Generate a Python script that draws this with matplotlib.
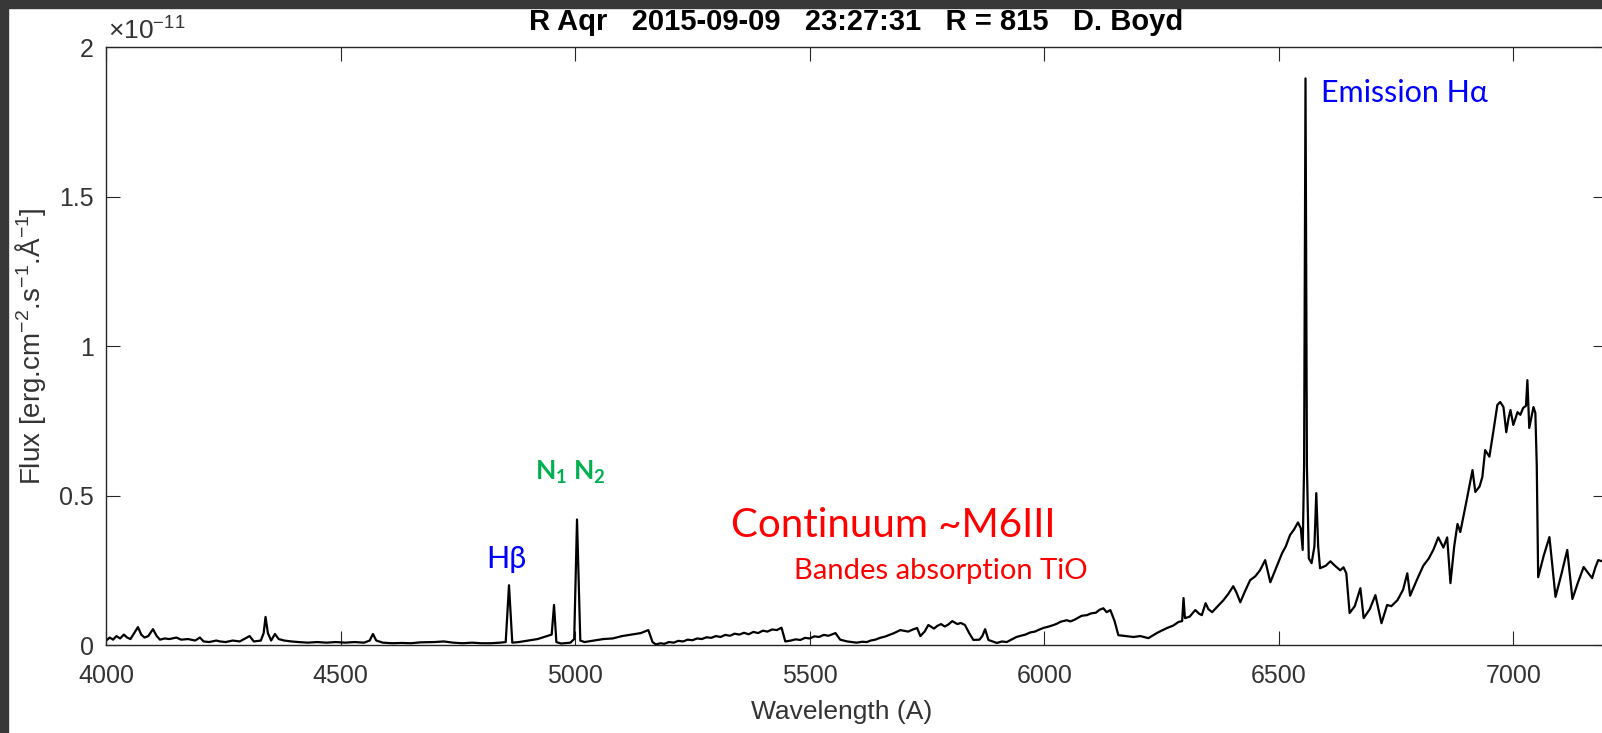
import matplotlib
matplotlib.use("Agg")
import matplotlib.pyplot as plt
from matplotlib.patches import Rectangle

plt.rcParams['font.family'] = ['Liberation Sans', 'DejaVu Sans']
plt.rcParams['mathtext.fontset'] = 'custom'
plt.rcParams['mathtext.rm'] = 'Liberation Sans'
plt.rcParams['mathtext.it'] = 'Liberation Sans:italic'
plt.rcParams['mathtext.bf'] = 'Lato:bold'

# Spectre (flux en unites de 1e-11 erg/cm2/s/A)
wavelength = [
    4000, 4008, 4015, 4022, 4030, 4038, 4045, 4052, 4060, 4068, 4075, 4082, 4090, 4100,
    4108, 4115, 4125, 4135, 4150, 4160, 4175, 4190, 4200, 4208, 4220, 4235, 4243, 4255,
    4270, 4285, 4300, 4306, 4315, 4330, 4336, 4340, 4345, 4352, 4360, 4368, 4380, 4395,
    4410, 4430, 4450, 4470, 4490, 4510, 4530, 4550, 4562, 4569, 4576, 4590, 4610, 4630,
    4650, 4670, 4700, 4720, 4740, 4760, 4780, 4800, 4820, 4840, 4852, 4859, 4866, 4880,
    4900, 4920, 4940, 4950, 4955, 4960, 4970, 4990, 4998, 5004, 5011, 5020, 5040, 5060,
    5080, 5100, 5120, 5140, 5156, 5165, 5172, 5182, 5190, 5200, 5210, 5220, 5230, 5240,
    5250, 5260, 5270, 5280, 5290, 5300, 5310, 5320, 5330, 5340, 5350, 5360, 5370, 5380,
    5390, 5400, 5410, 5420, 5430, 5440, 5448, 5460, 5470, 5480, 5490, 5500, 5510, 5520,
    5530, 5540, 5555, 5565, 5580, 5590, 5600, 5612, 5622, 5630, 5640, 5650, 5660, 5670,
    5680, 5693, 5710, 5720, 5729, 5736, 5745, 5753, 5765, 5772, 5780, 5788, 5795, 5804,
    5815, 5822, 5831, 5840, 5849, 5862, 5868, 5874, 5881, 5899, 5910, 5920, 5930, 5941,
    5950, 5960, 5970, 5980, 5990, 5998, 6010, 6020, 6028, 6035, 6048, 6056, 6065, 6073,
    6080, 6091, 6100, 6110, 6118, 6126, 6133, 6141, 6150, 6158, 6175, 6190, 6205, 6222,
    6240, 6250, 6262, 6275, 6286, 6294, 6297, 6300, 6310, 6322, 6330, 6336, 6344, 6350,
    6358, 6370, 6382, 6392, 6403, 6410, 6418, 6428, 6439, 6450, 6460, 6471, 6476, 6482,
    6495, 6507, 6515, 6524, 6532, 6541, 6547, 6551, 6554, 6557, 6560, 6564, 6570, 6576,
    6580, 6584, 6588, 6600, 6610, 6620, 6631, 6638, 6644, 6651, 6662, 6674, 6681, 6694,
    6706, 6719, 6731, 6740, 6753, 6765, 6774, 6780, 6795, 6808, 6820, 6830, 6840, 6851,
    6859, 6866, 6874, 6881, 6887, 6900, 6913, 6919, 6928, 6934, 6940, 6949, 6958, 6966,
    6972, 6979, 6985, 6990, 6994, 7000, 7009, 7015, 7021, 7027, 7030, 7034, 7043, 7047,
    7050, 7053, 7065, 7077, 7090, 7103, 7115, 7126, 7138, 7150, 7160, 7168, 7175, 7181,
    7190, 7200,
]
flux = [
    0.015, 0.025, 0.018, 0.030, 0.022, 0.035, 0.025, 0.020, 0.040, 0.060, 0.035, 0.025, 0.030, 0.053,
    0.030, 0.018, 0.022, 0.020, 0.025, 0.018, 0.020, 0.015, 0.025, 0.012, 0.010, 0.015, 0.012, 0.010,
    0.015, 0.012, 0.025, 0.030, 0.012, 0.015, 0.040, 0.094, 0.040, 0.015, 0.037, 0.020, 0.015, 0.012,
    0.010, 0.008, 0.010, 0.008, 0.010, 0.008, 0.010, 0.008, 0.015, 0.037, 0.015, 0.008, 0.006, 0.007,
    0.006, 0.009, 0.010, 0.012, 0.008, 0.006, 0.008, 0.006, 0.006, 0.008, 0.010, 0.200, 0.008, 0.010,
    0.015, 0.020, 0.030, 0.035, 0.134, 0.010, 0.005, 0.008, 0.020, 0.420, 0.015, 0.010, 0.015, 0.020,
    0.022, 0.030, 0.035, 0.040, 0.050, 0.010, 0.002, 0.006, 0.004, 0.010, 0.008, 0.014, 0.012, 0.018,
    0.016, 0.022, 0.020, 0.026, 0.024, 0.030, 0.027, 0.034, 0.031, 0.038, 0.035, 0.041, 0.036, 0.044,
    0.040, 0.048, 0.045, 0.052, 0.050, 0.058, 0.012, 0.015, 0.019, 0.017, 0.024, 0.022, 0.029, 0.027,
    0.034, 0.031, 0.040, 0.018, 0.012, 0.010, 0.008, 0.011, 0.010, 0.015, 0.018, 0.024, 0.028, 0.034,
    0.040, 0.050, 0.045, 0.052, 0.057, 0.030, 0.045, 0.067, 0.055, 0.064, 0.070, 0.062, 0.068, 0.080,
    0.070, 0.074, 0.067, 0.040, 0.017, 0.018, 0.030, 0.053, 0.017, 0.007, 0.012, 0.010, 0.018, 0.027,
    0.031, 0.035, 0.042, 0.045, 0.052, 0.057, 0.062, 0.067, 0.072, 0.078, 0.083, 0.079, 0.085, 0.092,
    0.098, 0.100, 0.106, 0.108, 0.118, 0.123, 0.110, 0.117, 0.080, 0.033, 0.030, 0.027, 0.030, 0.023,
    0.040, 0.048, 0.057, 0.065, 0.077, 0.080, 0.157, 0.090, 0.095, 0.117, 0.105, 0.100, 0.140, 0.120,
    0.110, 0.130, 0.150, 0.170, 0.197, 0.175, 0.143, 0.180, 0.217, 0.230, 0.250, 0.284, 0.250, 0.210,
    0.260, 0.307, 0.330, 0.368, 0.385, 0.410, 0.390, 0.318, 0.600, 1.895, 0.600, 0.290, 0.274, 0.330,
    0.508, 0.330, 0.257, 0.265, 0.280, 0.265, 0.250, 0.260, 0.240, 0.107, 0.130, 0.190, 0.090, 0.120,
    0.167, 0.073, 0.134, 0.130, 0.150, 0.185, 0.240, 0.165, 0.220, 0.265, 0.290, 0.320, 0.360, 0.326,
    0.360, 0.207, 0.330, 0.405, 0.378, 0.480, 0.585, 0.512, 0.530, 0.562, 0.652, 0.630, 0.720, 0.803,
    0.813, 0.796, 0.712, 0.760, 0.786, 0.736, 0.779, 0.770, 0.793, 0.800, 0.886, 0.726, 0.796, 0.776,
    0.600, 0.227, 0.300, 0.361, 0.161, 0.240, 0.318, 0.154, 0.210, 0.261, 0.240, 0.224, 0.260, 0.284,
    0.280, 0.300,
]

x_ticks = [4000, 4500, 5000, 5500, 6000, 6500, 7000]
y_ticks = [0, 0.5, 1, 1.5, 2]
y_tick_labels = ['0', '0.5', '1', '1.5', '2']

titre = "R Aqr   2015-09-09   23:27:31   R = 815   D. Boyd"

fig = plt.figure(figsize=(16.02, 7.33), dpi=100)
ax = fig.add_axes([0.0662, 0.120, 0.937, 0.8158])

# Bordure sombre (capture d'ecran)
fig.patches.append(Rectangle((0, 0), 8 / 1602, 1, transform=fig.transFigure,
                             color='#383838', zorder=10))
fig.patches.append(Rectangle((0, 1 - 8 / 733), 1, 8 / 733, transform=fig.transFigure,
                             color='#383838', zorder=10))

ax.plot(wavelength, flux, color='black', linewidth=1.6)

ax.set_xlim(4000, 7200)
ax.set_ylim(0, 2)
ax.set_xticks(x_ticks)
ax.set_yticks(y_ticks)
ax.set_yticklabels(y_tick_labels)

axis_col = '#262626'
for s in ax.spines.values():
    s.set_color(axis_col)
    s.set_linewidth(1.0)
ax.tick_params(direction='in', length=10, width=0.8, top=True, right=True,
               color=axis_col, labelcolor='#333333', labelsize=18)
ax.tick_params(axis='x', pad=14)
ax.tick_params(axis='y', pad=9)

ax.set_xlabel('Wavelength (A)', fontsize=19, color='#333333', va='center')
ax.xaxis.set_label_coords(0.490, -0.112)
ax.set_ylabel(r'Flux [erg.cm$^{-2}$.s$^{-1}$.Å$^{-1}$]', fontsize=20,
              color='#333333', va='center')
ax.yaxis.set_label_coords(-0.0506, 0.5)

ax.text(0.5, 1.042, titre, transform=ax.transAxes, ha='center', va='center',
        fontsize=21, fontweight='bold', color='black')
ax.text(0.001, 1.0117, '×10$^{-11}$', transform=ax.transAxes, ha='left',
        va='baseline', fontsize=19, color='#333333')

# Annotations
ann_font = 'Lato'
ax.text(6591, 1.816, 'Emission Hα', color='#0000ff', fontsize=22,
        family=ann_font, va='baseline')
ax.text(4810, 0.2575, 'Hβ', color='#0000ff', fontsize=22,
        family=ann_font, va='baseline')
ax.text(4915, 0.552, r'$\mathbf{N}_\mathbf{1}\;\mathbf{N}_\mathbf{2}$',
        color='#00b050', fontsize=19, va='baseline')
ax.text(5333, 0.361, 'Continuum ~M6III', color='#ff0000', fontsize=29,
        family=ann_font, va='baseline')
ax.text(5467, 0.221, 'Bandes absorption TiO', color='#ff0000', fontsize=21,
        family=ann_font, va='baseline')

fig.savefig('out.png', dpi=100)
